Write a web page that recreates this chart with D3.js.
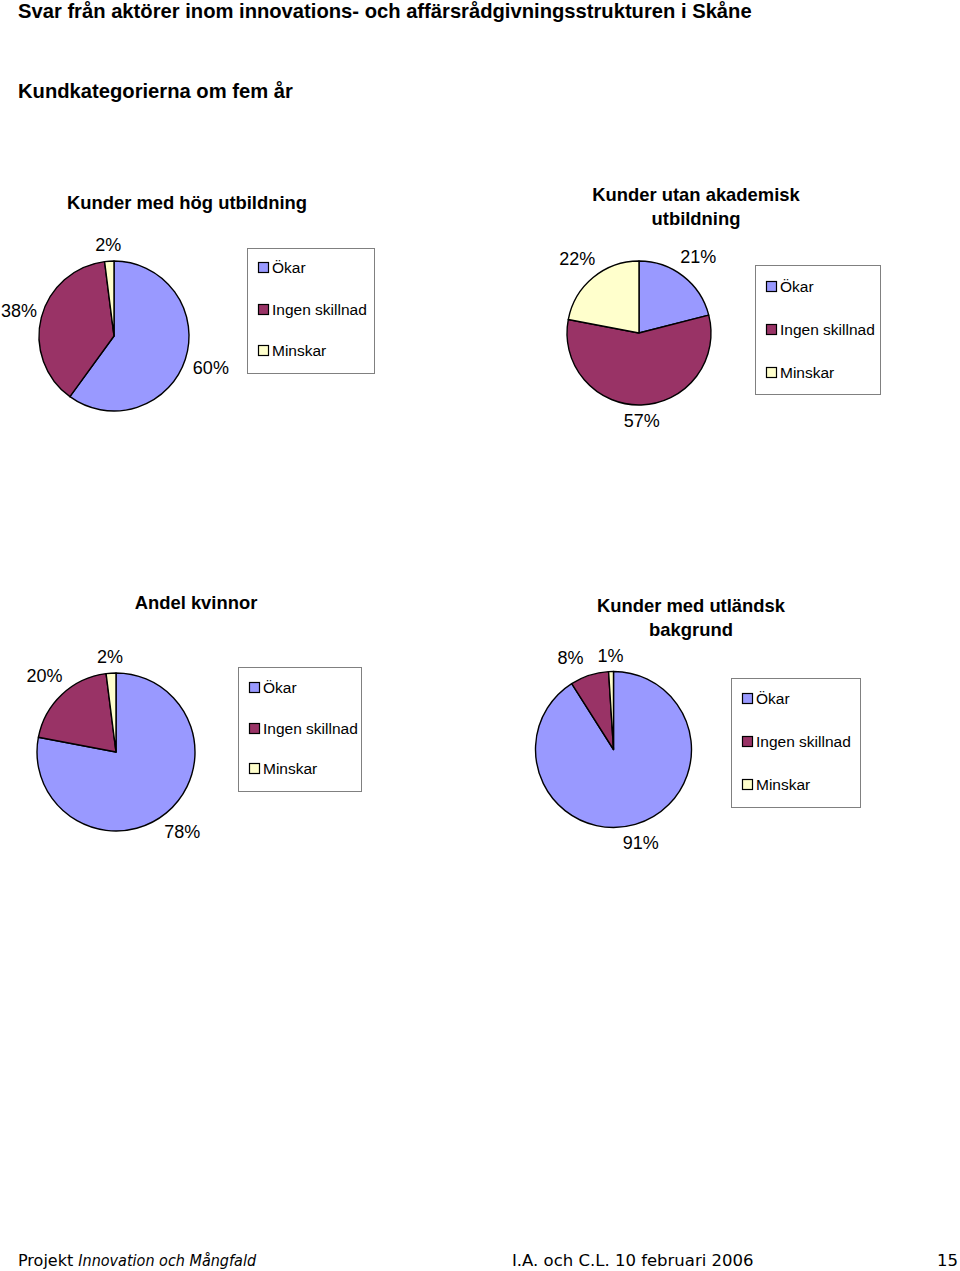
<!DOCTYPE html>
<html><head><meta charset="utf-8">
<script src="https://cdn.jsdelivr.net/npm/d3@7"></script>
<style>
html,body{margin:0;padding:0;background:#fff;}
svg{display:block;}
</style></head>
<body>
<script>
// ---- data ----
const categories = ["Ökar", "Ingen skillnad", "Minskar"];
const colors = ["#9999FF", "#993366", "#FFFFCC"];
const pageTitle = "Svar från aktörer inom innovations- och affärsrådgivningsstrukturen i Skåne";
const subTitle = "Kundkategorierna om fem år";
const titleHogUtb = ["Kunder med hög utbildning"];
const titleUtanAkad = ["Kunder utan akademisk", "utbildning"];
const titleKvinnor = ["Andel kvinnor"];
const titleUtlandsk = ["Kunder med utländsk", "bakgrund"];
const valuesHogUtb = [60, 38, 2];
const valuesUtanAkad = [21, 57, 22];
const valuesKvinnor = [78, 20, 2];
const valuesUtlandsk = [91, 8, 1];
const footerLeftPlain = "Projekt ";
const footerLeftItalic = "Innovation och Mångfald";
const footerMid = "I.A. och C.L. 10 februari 2006";
const footerPage = "15";

// ---- layout ----
const W = 960, H = 1271;
const charts = [
  {title: titleHogUtb, values: valuesHogUtb, cx: 114, cy: 336, r: 75, tx: 187, ty: 203,
   legend: {x: 247, y: 248, w: 127, h: 125, rows: [268, 310, 351]}},
  {title: titleUtanAkad, values: valuesUtanAkad, cx: 639, cy: 333, r: 72, tx: 696, ty: 195,
   legend: {x: 755, y: 265, w: 125, h: 129, rows: [287, 330, 373]}},
  {title: titleKvinnor, values: valuesKvinnor, cx: 116, cy: 752, r: 79, tx: 196, ty: 603,
   legend: {x: 238, y: 667, w: 123, h: 124, rows: [688, 729, 769]}},
  {title: titleUtlandsk, values: valuesUtlandsk, cx: 613.5, cy: 749.5, r: 78, tx: 691, ty: 606,
   legend: {x: 731, y: 678, w: 129, h: 129, rows: [699, 742, 785]}}
];

const svg = d3.select("body").append("svg").attr("width", W).attr("height", H);
svg.append("rect").attr("width", W).attr("height", H).attr("fill", "#fff");

const bold = "'Liberation Sans', Arial, sans-serif";
svg.append("text").attr("x", 18).attr("y", 11).attr("dy", "0.35em")
  .style("font-family", bold).style("font-weight", "bold").style("font-size", "20.2px")
  .text(pageTitle);
svg.append("text").attr("x", 18).attr("y", 91).attr("dy", "0.35em")
  .style("font-family", bold).style("font-weight", "bold").style("font-size", "20.2px")
  .text(subTitle);

const pie = d3.pie().sort(null).value(d => d);

charts.forEach(c => {
  const g = svg.append("g");
  // title
  c.title.forEach((line, i) => {
    g.append("text").attr("x", c.tx).attr("y", c.ty + i * 24).attr("dy", "0.35em")
      .attr("text-anchor", "middle")
      .style("font-family", bold).style("font-weight", "bold").style("font-size", "18.4px")
      .text(line);
  });
  const arcs = pie(c.values);
  const arc = d3.arc().innerRadius(0).outerRadius(c.r);
  const pg = g.append("g").attr("transform", `translate(${c.cx},${c.cy})`);
  pg.selectAll("path").data(arcs).join("path")
    .attr("d", arc).attr("fill", (d, i) => colors[i])
    .attr("stroke", "#000").attr("stroke-width", 1.4).attr("stroke-linejoin", "round");
  // labels
  const gap = 7;
  const placed = [];
  arcs.forEach(a => {
    const t = pg.append("text").attr("text-anchor", "middle").attr("dy", "0.35em")
      .style("font-family", bold).style("font-size", "18px").attr("fill", "#000")
      .text(Math.round(a.data) + "%");
    const bb = t.node().getBBox();
    const hw = bb.width / 2, hh = 9;
    const mid = (a.startAngle + a.endAngle) / 2;
    const ux = Math.sin(mid), uy = -Math.cos(mid);
    let lo = 0, hi = c.r + 100;
    for (let k = 0; k < 50; k++) {
      const d = (lo + hi) / 2;
      const x = d * ux, y = d * uy;
      const px = Math.max(Math.abs(x) - hw, 0), py = Math.max(Math.abs(y) - hh, 0);
      if (Math.hypot(px, py) < c.r + gap) lo = d; else hi = d;
    }
    placed.push({t, x: hi * ux, y: hi * uy, hw, hh});
  });
  // simple overlap resolution: push the left-hand label further left
  for (let i = 0; i < placed.length; i++) {
    for (let j = 0; j < placed.length; j++) {
      if (i === j) continue;
      const A = placed[i], B = placed[j];
      if (A.x < B.x && Math.abs(A.y - B.y) < A.hh + B.hh) {
        const need = A.hw + B.hw + 14;
        if (B.x - A.x < need) A.x = B.x - need;
      }
    }
  }
  // keep labels inside the page
  placed.forEach(p => {
    const minX = 1 - c.cx + p.hw;
    if (p.x < minX) p.x = minX;
    p.t.attr("x", p.x).attr("y", p.y);
  });
  // legend
  const L = c.legend;
  const lg = g.append("g");
  lg.append("rect").attr("x", L.x + 0.5).attr("y", L.y + 0.5).attr("width", L.w).attr("height", L.h)
    .attr("fill", "#fff").attr("stroke", "#808080").attr("stroke-width", 1);
  categories.forEach((cat, i) => {
    lg.append("rect").attr("x", L.x + 11.5).attr("y", L.rows[i] - 5.5).attr("width", 10).attr("height", 10)
      .attr("fill", colors[i]).attr("stroke", "#000").attr("stroke-width", 1.2);
    lg.append("text").attr("x", L.x + 25).attr("y", L.rows[i]).attr("dy", "0.35em")
      .style("font-family", bold).style("font-size", "15.5px").text(cat);
  });
});

// footer
const foot = "'DejaVu Sans', Verdana, sans-serif";
const ft = svg.append("text").attr("x", 18).attr("y", 1260).attr("dy", "0.35em")
  .style("font-family", foot).style("font-size", "16px");
ft.append("tspan").text(footerLeftPlain);
ft.append("tspan").style("font-style", "italic").style("font-stretch", "condensed")
  .style("font-family", "'DejaVu Sans Condensed', 'DejaVu Sans', sans-serif").text(footerLeftItalic);
svg.append("text").attr("x", 512).attr("y", 1260).attr("dy", "0.35em")
  .style("font-family", foot).style("font-size", "16.5px")
  .text(footerMid);
svg.append("text").attr("x", 958).attr("y", 1260).attr("dy", "0.35em").attr("text-anchor", "end")
  .style("font-family", foot).style("font-size", "16.5px")
  .text(footerPage);
</script>
</body></html>
